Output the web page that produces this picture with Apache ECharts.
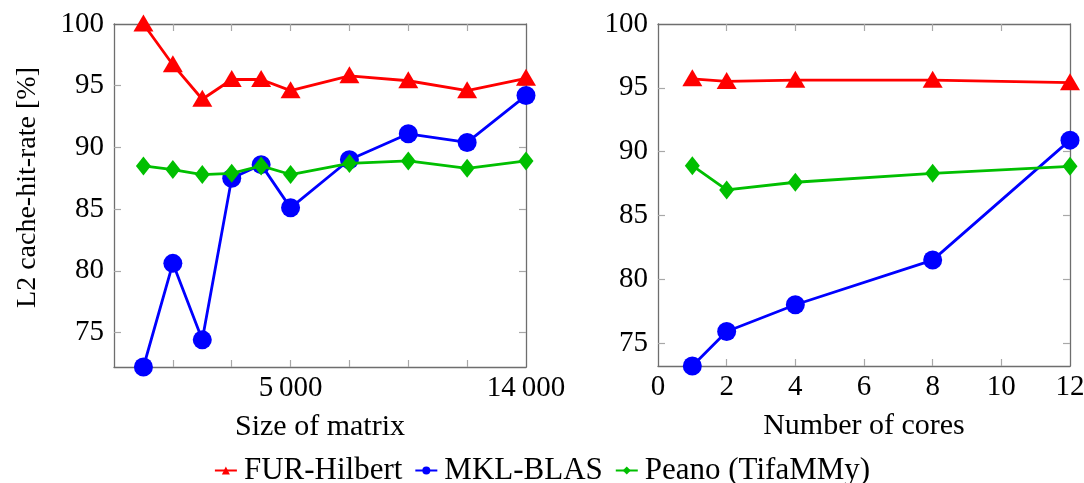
<!DOCTYPE html>
<html>
<head>
<meta charset="utf-8">
<script src="https://cdn.jsdelivr.net/npm/echarts@6/dist/echarts.min.js"></script>
<style>
  html, body { margin: 0; padding: 0; background: #ffffff; }
  #chart { width: 1084px; height: 483px; }
</style>
</head>
<body>
<div id="chart"></div>
<script>
// Left panel: each measured matrix size sits on a slot of the size axis
const sizeSlots = [1, 2, 3, 4, 5, 6, 8, 10, 12, 14];
const sizeTickMarks = [2, 4, 6, 8, 10, 12];
const sizeTickSlots = [6, 14];
const sizeTickLabels = ['5\u2009000', '14\u2009000'];
const furHilbertBySize = [100.0, 96.7, 93.9, 95.5, 95.5, 94.6, 95.8, 95.4, 94.6, 95.6];
const mklBlasBySize = [72.2, 80.6, 74.4, 87.5, 88.6, 85.1, 89.0, 91.1, 90.4, 94.2];
const peanoBySize = [88.5, 88.2, 87.8, 87.9, 88.5, 87.8, 88.7, 88.9, 88.3, 88.9];

// Right panel: hit rate against the number of cores
const cores = [1, 2, 4, 8, 12];
const coreTickMarks = [2, 4, 6, 8, 10];
const coreTickLabels = [0, 2, 4, 6, 8, 10, 12];
const furHilbertByCores = [95.7, 95.5, 95.6, 95.6, 95.4];
const mklBlasByCores = [73.2, 75.9, 78.0, 81.5, 90.9];
const peanoByCores = [88.9, 87.0, 87.6, 88.3, 88.85];

// Hit-rate ticks shared by both panels
const rateTickMarks = [75, 80, 85, 90, 95];
const rateTickLabels = [75, 80, 85, 90, 95, 100];

const seriesNames = ['FUR-Hilbert', 'MKL-BLAS', 'Peano (TifaMMy)'];
const colors = ['#ff0000', '#0000ff', '#00bf00'];

const FONT = 'Liberation Serif';
const FRAME = { show: true, onZero: false, lineStyle: { color: '#6e6e6e', width: 1.3 } };
const tick = values => ({
  show: true, inside: true, length: 7, customValues: values,
  lineStyle: { color: '#a8a8a8', width: 1.2 }
});

const pairs = (xs, ys) => xs.map((x, i) => [x, ys[i]]);

const marks = [
  { symbol: 'triangle', symbolSize: [20, 17], symbolOffset: [0, -1] },
  { symbol: 'circle', symbolSize: 19 },
  { symbol: 'diamond', symbolSize: [15, 19] }
];

function lineSeries(k, xIdx, yIdx, data) {
  return Object.assign({
    name: seriesNames[k],
    type: 'line',
    xAxisIndex: xIdx,
    yAxisIndex: yIdx,
    data: data,
    color: colors[k],
    lineStyle: { color: colors[k], width: 2.8 },
    itemStyle: { color: colors[k] },
    showAllSymbol: true,
    animation: false,
    z: 2 + k
  }, marks[k]);
}

// Hit-rate axes: the lower bound follows the smallest value, the top is 100 %
function yAxes(gridIndex, minVal, withName) {
  const base = {
    type: 'value',
    gridIndex: gridIndex,
    min: minVal,
    max: 100,
    splitLine: { show: false },
    axisLine: FRAME,
    axisTick: tick(rateTickMarks)
  };
  const left = Object.assign({}, base, {
    position: 'left',
    axisLabel: {
      fontFamily: FONT,
      fontSize: 29,
      color: '#000',
      margin: 10,
      customValues: rateTickLabels
    }
  });
  if (withName) {
    Object.assign(left, {
      name: 'L2 cache-hit-rate [%]',
      nameLocation: 'middle',
      nameGap: 72,
      nameTextStyle: { fontFamily: FONT, fontSize: 28, color: '#000', padding: [0, 0, 0, 16] }
    });
  }
  const right = Object.assign({}, base, {
    position: 'right',
    axisLabel: { show: false }
  });
  return [left, right];
}

const chart = echarts.init(document.getElementById('chart'), null, { renderer: 'canvas' });

chart.setOption({
  backgroundColor: '#ffffff',
  animation: false,
  textStyle: { fontFamily: FONT, color: '#000' },
  grid: [
    { left: 114, top: 24, width: 412, height: 343, outerBoundsMode: 'none', containLabel: false },
    { left: 658, top: 24, width: 412, height: 342, outerBoundsMode: 'none', containLabel: false }
  ],
  legend: {
    data: seriesNames,
    left: 'center',
    top: 450,
    itemWidth: 22,
    itemHeight: 10,
    itemGap: 12,
    textStyle: { fontFamily: FONT, fontSize: 31, color: '#000', padding: [0, 0, 0, 2] }
  },
  xAxis: [
    {
      type: 'value', gridIndex: 0, position: 'bottom',
      min: 0, max: 14,
      splitLine: { show: false }, axisLine: FRAME, axisTick: tick(sizeTickMarks),
      axisLabel: {
        fontFamily: FONT, fontSize: 29, color: '#000', margin: 7,
        customValues: sizeTickSlots,
        formatter: v => sizeTickLabels[sizeTickSlots.indexOf(v)] || ''
      },
      name: 'Size of matrix', nameLocation: 'middle', nameGap: 45,
      nameTextStyle: { fontFamily: FONT, fontSize: 30, color: '#000' }
    },
    {
      type: 'value', gridIndex: 0, position: 'top',
      min: 0, max: 14,
      splitLine: { show: false }, axisLine: FRAME, axisTick: tick(sizeTickMarks),
      axisLabel: { show: false }
    },
    {
      type: 'value', gridIndex: 1, position: 'bottom',
      min: 0, max: 12,
      splitLine: { show: false }, axisLine: FRAME, axisTick: tick(coreTickMarks),
      axisLabel: { fontFamily: FONT, fontSize: 29, color: '#000', margin: 7, customValues: coreTickLabels },
      name: 'Number of cores', nameLocation: 'middle', nameGap: 45,
      nameTextStyle: { fontFamily: FONT, fontSize: 30, color: '#000' }
    },
    {
      type: 'value', gridIndex: 1, position: 'top',
      min: 0, max: 12,
      splitLine: { show: false }, axisLine: FRAME, axisTick: tick(coreTickMarks),
      axisLabel: { show: false }
    }
  ],
  yAxis: [
    ...yAxes(0, Math.min(...mklBlasBySize), true),
    ...yAxes(1, Math.min(...mklBlasByCores), false)
  ],
  series: [
    lineSeries(0, 0, 0, pairs(sizeSlots, furHilbertBySize)),
    lineSeries(1, 0, 0, pairs(sizeSlots, mklBlasBySize)),
    lineSeries(2, 0, 0, pairs(sizeSlots, peanoBySize)),
    lineSeries(0, 2, 2, pairs(cores, furHilbertByCores)),
    lineSeries(1, 2, 2, pairs(cores, mklBlasByCores)),
    lineSeries(2, 2, 2, pairs(cores, peanoByCores))
  ]
});
</script>
</body>
</html>
